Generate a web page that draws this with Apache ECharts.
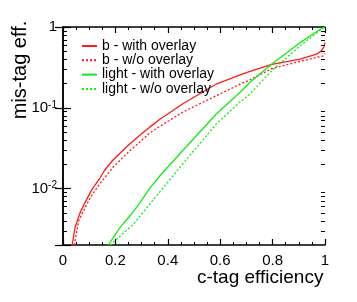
<!DOCTYPE html>
<html>
<head>
<meta charset="utf-8">
<script src="https://cdn.jsdelivr.net/npm/echarts@6/dist/echarts.min.js"></script>
<style>html,body{margin:0;padding:0;background:#fff;}#c{width:357px;height:302px;}</style>
</head>
<body>
<div id="c"></div>
<script>
// c-tag efficiency (x) and mis-tag efficiency (y) per curve
const effBWith   = [0.035, 0.046, 0.065, 0.084, 0.110, 0.141, 0.160, 0.192, 0.243, 0.294, 0.332, 0.370, 0.459, 0.587, 0.676, 0.714, 0.797, 0.905, 0.968, 0.987, 0.995, 1.000];
const misBWith   = [0.0020, 0.0033, 0.0050, 0.0067, 0.0097, 0.0135, 0.0171, 0.0227, 0.033, 0.046, 0.058, 0.072, 0.113, 0.198, 0.255, 0.282, 0.345, 0.400, 0.460, 0.510, 0.560, 0.640];
const effBWo     = [0.043, 0.060, 0.084, 0.110, 0.141, 0.192, 0.243, 0.294, 0.332, 0.370, 0.459, 0.587, 0.676, 0.714, 0.797, 0.905, 0.994, 1.000];
const misBWo     = [0.0020, 0.0040, 0.0058, 0.0083, 0.0115, 0.0185, 0.027, 0.038, 0.049, 0.059, 0.089, 0.142, 0.196, 0.222, 0.305, 0.375, 0.440, 0.470];
const effLWith   = [0.173, 0.218, 0.256, 0.294, 0.332, 0.370, 0.459, 0.587, 0.676, 0.714, 0.797, 0.905, 0.987, 1.000];
const misLWith   = [0.0020, 0.0033, 0.0046, 0.0067, 0.0102, 0.0144, 0.030, 0.085, 0.156, 0.207, 0.348, 0.640, 0.960, 1.000];
const effLWo     = [0.180, 0.268, 0.380, 0.470, 0.587, 0.676, 0.714, 0.797, 0.905, 0.987, 1.000];
const misLWo     = [0.0020, 0.0036, 0.0100, 0.0227, 0.064, 0.118, 0.149, 0.288, 0.585, 0.940, 1.000];
const seriesNames = ['b - with overlay', 'b - w/o overlay', 'light - with overlay', 'light - w/o overlay'];
const xTickLabels = ['0', '0.2', '0.4', '0.6', '0.8', '1'];
const yMinorTicks = [0.003, 0.004, 0.005, 0.006, 0.007, 0.008, 0.009,
                     0.02, 0.03, 0.04, 0.05, 0.06, 0.07, 0.08, 0.09,
                     0.2, 0.3, 0.4, 0.5, 0.6, 0.7, 0.8, 0.9];

const zip = (xs, ys) => xs.map((x, i) => [x, ys[i]]);
const FONT = 'Liberation Sans';
const RED = '#ff1a1a', GREEN = '#14ea14';

function yFmt(v) {
  const e = Math.log10(v);
  const r = Math.round(e);
  if (Math.abs(e - r) > 1e-6) return '';
  if (r === 0) return '{b|1}';
  return '{b|10}{s|' + r + '}';
}
function xFmt(v) {
  const i = Math.round(v / 0.2);
  return xTickLabels[i] !== undefined ? xTickLabels[i] : '';
}

const chart = echarts.init(document.getElementById('c'), null, {renderer: 'canvas'});
const axisLineStyle = {color: '#000', width: 1.5};
function lineSeries(name, xs, ys, color, dashed) {
  return {name: name, type: 'line', data: zip(xs, ys), symbol: 'none', showSymbol: false,
    lineStyle: {color: color, width: 1.3, type: dashed ? [2, 2] : 'solid'}, itemStyle: {color: color}, z: 3};
}
const option = {
  animation: false,
  backgroundColor: '#fff',
  textStyle: {fontFamily: FONT},
  grid: {left: 63, right: 32, top: 27, bottom: 57, containLabel: false},
  xAxis: [{
    type: 'value', min: 0, max: 1, interval: 0.2, position: 'bottom',
    axisLine: {show: true, lineStyle: axisLineStyle},
    axisTick: {show: true, inside: true, length: 6, lineStyle: {color: '#000', width: 1.2}},
    minorTick: {show: true, splitNumber: 4, length: 3, lineStyle: {color: '#000', width: 1}},
    splitLine: {show: false},
    axisLabel: {formatter: xFmt, fontSize: 15, color: '#000', margin: 8, fontFamily: FONT}
  }, {
    type: 'value', min: 0, max: 1, interval: 0.2, position: 'top',
    axisLine: {show: true, lineStyle: axisLineStyle},
    axisTick: {show: true, inside: true, length: 6, lineStyle: {color: '#000', width: 1.2}},
    minorTick: {show: true, splitNumber: 4, length: 3, lineStyle: {color: '#000', width: 1}},
    splitLine: {show: false},
    axisLabel: {show: false}
  }],
  yAxis: [{
    type: 'log', logBase: 10, min: 0.002, max: 1, position: 'left',
    axisLine: {show: true, lineStyle: axisLineStyle},
    axisTick: {show: true, inside: true, length: 8, lineStyle: {color: '#000', width: 1.2}},
    splitLine: {show: false},
    axisLabel: {
      formatter: yFmt, margin: 6, color: '#000',
      rich: {
        b: {fontSize: 15, fontFamily: FONT, color: '#000', lineHeight: 16},
        s: {fontSize: 10, fontFamily: FONT, color: '#000', verticalAlign: 'top', lineHeight: 16, padding: [0, 0, 8, 0]}
      }
    }
  }, {
    type: 'log', logBase: 10, min: 0.002, max: 1, position: 'right',
    axisLine: {show: true, lineStyle: axisLineStyle},
    axisTick: {show: true, inside: true, length: 8, lineStyle: {color: '#000', width: 1.2}},
    splitLine: {show: false},
    axisLabel: {show: false}
  }],
  legend: {
    orient: 'vertical', left: 76, top: 34,
    itemWidth: 15, itemHeight: 13, itemGap: 0.3,
    itemStyle: {opacity: 0},
    data: seriesNames,
    textStyle: {fontSize: 14, fontFamily: FONT, color: '#000', lineHeight: 13}
  },
  series: [
    lineSeries(seriesNames[0], effBWith, misBWith, RED, false),
    lineSeries(seriesNames[1], effBWo, misBWo, RED, true),
    lineSeries(seriesNames[2], effLWith, misLWith, GREEN, false),
    lineSeries(seriesNames[3], effLWo, misLWo, GREEN, true),
    {
      type: 'custom', silent: true, clip: false, z: 5,
      xAxisIndex: 0, yAxisIndex: 0,
      data: yMinorTicks.map(v => [0, v]),
      renderItem: function (params, api) {
        const v = api.value(1);
        const pL = api.coord([0, v]);
        const pR = api.coord([1, v]);
        const st = {stroke: '#000', lineWidth: 1};
        return {type: 'group', children: [
          {type: 'line', shape: {x1: pL[0], y1: Math.round(pL[1]) + 0.5, x2: pL[0] + 4, y2: Math.round(pL[1]) + 0.5}, style: st},
          {type: 'line', shape: {x1: pR[0], y1: Math.round(pR[1]) + 0.5, x2: pR[0] - 4, y2: Math.round(pR[1]) + 0.5}, style: st}
        ]};
      }
    }
  ],
  graphic: [
    {type: 'text', left: 325 - 128, top: 268,
     style: {text: 'c-tag efficiency', font: '19px "Liberation Sans"', fill: '#000'}},
    {type: 'text', x: 20, y: 70, rotation: Math.PI / 2, originX: 0, originY: 0,
     style: {text: 'mis-tag eff.', font: '20px "Liberation Sans"', fill: '#000', align: 'center', verticalAlign: 'middle'}}
  ]
};
chart.setOption(option);
</script>
</body>
</html>
